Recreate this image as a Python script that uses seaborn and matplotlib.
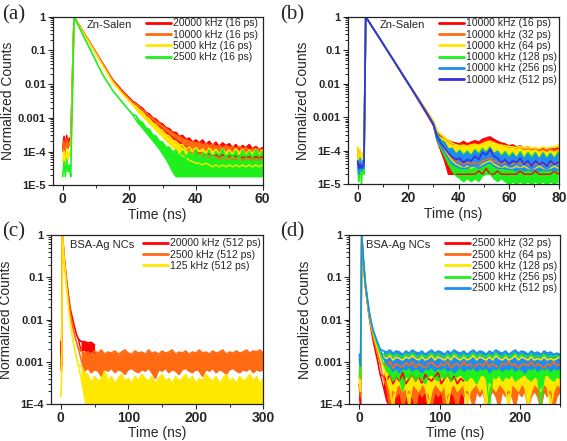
"""
Normalized PL decay curves (TCSPC) for Zn-Salen and BSA-Ag NCs.
"""
import numpy as np
import seaborn as sns
import matplotlib
matplotlib.use("Agg")
import matplotlib.pyplot as plt
from matplotlib.ticker import MultipleLocator, LogLocator, NullFormatter

# ---------------- data ----------------
# Each curve: a head (background, rise, decay) drawn as a line, and a noisy
# tail given as upper / lower envelope of the noise band.

# (a) Zn-Salen, different repetition rates, 16 ps bins
head_t_a = [0, 0.4, 0.8, 1.2, 1.6, 2.0, 2.4, 3.4, 6, 9, 12, 15, 18, 21]
tail_t_a = list(range(22, 61))
labels_a = ["20000 kHz (16 ps)", "10000 kHz (16 ps)", "5000 kHz (16 ps)", "2500 kHz (16 ps)"]
red_a = [1.2e-4, 2.8e-4, 1.0e-4, 3.0e-4, 1.5e-4, 2.5e-4, 1.8e-4, 1.0,
         0.38, 0.125, 0.041, 0.0135, 0.0062, 0.0031]
red_a_hi = [2.7e-3, 2.2e-3, 1.9e-3, 1.45e-3, 1.3e-3, 1.0e-3, 9.2e-4, 7.2e-4, 6.6e-4, 5.1e-4,
            4.8e-4, 3.7e-4, 3.7e-4, 2.8e-4, 3.0e-4, 2.3e-4, 2.5e-4, 1.9e-4, 2.2e-4, 1.8e-4,
            2.2e-4, 1.6e-4, 2.0e-4, 1.5e-4, 1.9e-4, 1.4e-4, 1.8e-4, 1.5e-4, 1.7e-4, 1.3e-4,
            1.6e-4, 1.2e-4, 1.5e-4, 1.3e-4, 1.6e-4, 1.2e-4, 1.4e-4, 1.15e-4, 1.3e-4]
red_a_lo = [2.3e-3, 1.9e-3, 1.5e-3, 1.2e-3, 9.8e-4, 8.0e-4, 6.6e-4, 5.4e-4, 4.5e-4, 3.7e-4,
            3.1e-4, 2.6e-4, 2.2e-4, 1.9e-4, 1.6e-4, 1.4e-4, 1.2e-4, 1.1e-4, 1.0e-4, 9e-5,
            9e-5, 8e-5, 8.5e-5, 7.5e-5, 8e-5, 7e-5, 8e-5, 7.5e-5, 7e-5, 8e-5,
            7e-5, 7.5e-5, 6.5e-5, 7e-5, 7e-5, 6.5e-5, 7e-5, 6.5e-5, 7e-5]
orange_a = [1.0e-4, 2.0e-4, 8.0e-5, 2.2e-4, 1.2e-4, 2.0e-4, 1.4e-4, 1.0,
            0.37, 0.12, 0.039, 0.0128, 0.0058, 0.0029]
orange_a_hi = [2.5e-3, 2.05e-3, 1.7e-3, 1.38e-3, 1.14e-3, 9.5e-4, 8.0e-4, 6.8e-4, 5.7e-4, 4.8e-4,
               4.1e-4, 3.5e-4, 3.1e-4, 2.7e-4, 2.4e-4, 2.2e-4, 2.0e-4, 1.9e-4, 1.8e-4, 1.8e-4,
               1.6e-4, 1.7e-4, 1.5e-4, 1.6e-4, 1.4e-4, 1.5e-4, 1.3e-4, 1.5e-4, 1.3e-4, 1.4e-4,
               1.2e-4, 1.4e-4, 1.2e-4, 1.3e-4, 1.1e-4, 1.2e-4, 1.1e-4, 1.2e-4, 1.1e-4]
orange_a_lo = [2.1e-3, 1.7e-3, 1.4e-3, 1.1e-3, 8.9e-4, 7.3e-4, 6.0e-4, 4.9e-4, 4.0e-4, 3.3e-4,
               2.7e-4, 2.2e-4, 1.9e-4, 1.6e-4, 1.4e-4, 1.2e-4, 1.0e-4, 9e-5, 8.5e-5, 8e-5,
               7.5e-5, 7e-5, 7e-5, 6.5e-5, 7e-5, 6e-5, 6.5e-5, 6e-5, 6.5e-5, 6e-5,
               6e-5, 6.5e-5, 5.5e-5, 6e-5, 6e-5, 5.5e-5, 6e-5, 5.5e-5, 6e-5]
yellow_a = [5e-5, 1.0e-4, 4e-5, 1.2e-4, 6e-5, 1.0e-4, 7e-5, 1.0,
            0.36, 0.115, 0.036, 0.0115, 0.0050, 0.0024]
yellow_a_hi = [2.2e-3, 1.7e-3, 1.45e-3, 1.08e-3, 9.4e-4, 7.0e-4, 6.3e-4, 4.7e-4, 4.2e-4, 3.1e-4,
               2.9e-4, 2.1e-4, 2.0e-4, 1.55e-4, 1.6e-4, 1.2e-4, 1.35e-4, 1.05e-4, 1.3e-4, 1.0e-4,
               1.2e-4, 9e-5, 1.25e-4, 9.5e-5, 1.15e-4, 8.5e-5, 1.2e-4, 9e-5, 1.1e-4, 8.5e-5,
               1.2e-4, 9e-5, 1.15e-4, 8e-5, 1.1e-4, 8.5e-5, 1.2e-4, 8e-5, 1.1e-4]
yellow_a_lo = [1.8e-3, 1.4e-3, 1.1e-3, 8.6e-4, 6.8e-4, 5.4e-4, 4.3e-4, 3.4e-4, 2.7e-4, 2.1e-4,
               1.7e-4, 1.35e-4, 1.1e-4, 9e-5, 7.5e-5, 6.5e-5, 5.5e-5, 5e-5, 4.5e-5, 4.5e-5,
               4e-5, 4.5e-5, 4e-5, 3.5e-5, 4e-5, 3.5e-5, 4e-5, 3.5e-5, 4e-5, 3.5e-5,
               4e-5, 3.5e-5, 4e-5, 3.5e-5, 4e-5, 3.5e-5, 4e-5, 3.5e-5, 4e-5]
green_a = [1.8e-5, 5e-5, 1.8e-5, 6e-5, 2.5e-5, 4e-5, 1.8e-5, 1.0,
           0.30, 0.076, 0.019, 0.0065, 0.0028, 0.00125]
green_a_hi = [1.15e-3, 8.2e-4, 7.2e-4, 5.0e-4, 4.6e-4, 3.1e-4, 2.9e-4, 2.0e-4, 1.9e-4, 1.35e-4,
              1.35e-4, 9.5e-5, 1.1e-4, 7e-5, 1.05e-4, 6.5e-5, 1.0e-4, 7e-5, 1.15e-4, 6.5e-5,
              9.5e-5, 7e-5, 1.1e-4, 6e-5, 1.0e-4, 7.5e-5, 1.2e-4, 6.5e-5, 9.5e-5, 7e-5,
              1.05e-4, 6e-5, 1.1e-4, 7e-5, 1.0e-4, 6.5e-5, 1.15e-4, 7e-5, 1.0e-4]
green_a_lo = [8.5e-4, 6.3e-4, 4.9e-4, 3.7e-4, 2.8e-4, 2.1e-4, 1.6e-4, 1.2e-4, 8.5e-5, 6e-5,
              4e-5, 2.5e-5, 1.8e-5, 1.8e-5, 1.8e-5, 1.8e-5, 1.8e-5, 1.8e-5, 1.8e-5, 1.8e-5,
              1.8e-5, 1.8e-5, 1.8e-5, 1.8e-5, 1.8e-5, 1.8e-5, 1.8e-5, 1.8e-5, 1.8e-5, 1.8e-5,
              1.8e-5, 1.8e-5, 1.8e-5, 1.8e-5, 1.8e-5, 1.8e-5, 1.8e-5, 1.8e-5, 1.8e-5]

# (b) Zn-Salen, 10000 kHz, different bin widths
head_t_b = [0, 0.5, 1.0, 1.5, 2.0, 2.5, 3.2, 6, 9, 12, 15, 18, 21, 24, 27, 30]
tail_t_b = [31.5 + 1.5 * i for i in range(33)]
labels_b = ["10000 kHz (16 ps)", "10000 kHz (32 ps)", "10000 kHz (64 ps)",
            "10000 kHz (128 ps)", "10000 kHz (256 ps)", "10000 kHz (512 ps)"]
red_b = [1.2e-4, 3e-5, 1.0e-4, 2e-5, 8e-5, 4e-5, 1.0,
         0.47, 0.21, 0.092, 0.040, 0.0175, 0.0077, 0.0033, 0.0014, 5.8e-4]
red_b_hi = [3.5e-4, 2.8e-4, 2.4e-4, 2.0e-4, 1.8e-4, 1.7e-4, 1.6e-4, 1.9e-4, 1.6e-4, 1.8e-4,
            2.0e-4, 1.8e-4, 2.2e-4, 2.4e-4, 2.6e-4, 2.2e-4, 1.9e-4, 1.7e-4, 1.6e-4, 1.4e-4,
            1.5e-4, 1.3e-4, 1.4e-4, 1.2e-4, 1.3e-4, 1.1e-4, 1.2e-4, 1.1e-4, 1.2e-4, 1.0e-4,
            1.2e-4, 1.1e-4, 1.2e-4]
red_b_lo = [2.0e-4, 1.0e-4, 5e-5, 2e-5, 2e-5, 2e-5, 2e-5, 2e-5, 2e-5, 2e-5,
            2e-5, 2.5e-5, 2e-5, 3e-5, 2e-5, 2e-5, 2.5e-5, 2e-5, 2e-5, 2e-5,
            2e-5, 2e-5, 2.5e-5, 2e-5, 2e-5, 2e-5, 2.5e-5, 2e-5, 2e-5, 2e-5,
            2e-5, 2.5e-5, 2e-5]
orange_b = [1.0e-4, 4e-5, 9e-5, 3e-5, 7e-5, 5e-5, 1.0,
            0.47, 0.21, 0.093, 0.041, 0.018, 0.0081, 0.0037, 0.0017, 7.6e-4]
orange_b_hi = [3.8e-4, 3.0e-4, 2.4e-4, 1.9e-4, 1.6e-4, 1.5e-4, 1.4e-4, 1.5e-4, 1.4e-4, 1.5e-4,
               1.6e-4, 1.5e-4, 1.7e-4, 1.9e-4, 2.0e-4, 1.8e-4, 1.6e-4, 1.5e-4, 1.4e-4, 1.3e-4,
               1.3e-4, 1.2e-4, 1.3e-4, 1.1e-4, 1.2e-4, 1.1e-4, 1.2e-4, 1.0e-4, 1.1e-4, 1.0e-4,
               1.1e-4, 1.0e-4, 1.1e-4]
orange_b_lo = [2.6e-4, 1.8e-4, 1.2e-4, 8e-5, 6e-5, 5e-5, 4.5e-5, 4e-5, 4.5e-5, 4e-5,
               4.5e-5, 4e-5, 5e-5, 5.5e-5, 6e-5, 5e-5, 4.5e-5, 4e-5, 4.5e-5, 4e-5,
               4e-5, 4.5e-5, 4e-5, 4.5e-5, 4e-5, 3.5e-5, 4e-5, 4.5e-5, 4e-5, 3.5e-5,
               4e-5, 4.5e-5, 4e-5]
yellow_b = [1.3e-4, 2e-5, 1.1e-4, 3e-5, 9e-5, 3e-5, 1.0,
            0.47, 0.21, 0.093, 0.042, 0.0185, 0.0083, 0.0038, 0.0017, 7.8e-4]
yellow_b_hi = [4.0e-4, 3.1e-4, 2.5e-4, 2.0e-4, 1.7e-4, 1.5e-4, 1.4e-4, 1.45e-4, 1.35e-4, 1.5e-4,
               1.55e-4, 1.45e-4, 1.6e-4, 1.8e-4, 1.9e-4, 1.7e-4, 1.55e-4, 1.45e-4, 1.4e-4, 1.35e-4,
               1.3e-4, 1.25e-4, 1.35e-4, 1.2e-4, 1.3e-4, 1.2e-4, 1.25e-4, 1.15e-4, 1.3e-4, 1.2e-4,
               1.25e-4, 1.3e-4, 1.5e-4]
yellow_b_lo = [2.6e-4, 1.7e-4, 1.1e-4, 7e-5, 5e-5, 4e-5, 3.5e-5, 3e-5, 3.5e-5, 3e-5,
               3.5e-5, 3e-5, 4e-5, 4.5e-5, 5e-5, 4e-5, 3.5e-5, 3e-5, 3.5e-5, 3e-5,
               3e-5, 3.5e-5, 3e-5, 3.5e-5, 3e-5, 2.5e-5, 3e-5, 3.5e-5, 3e-5, 2.5e-5,
               3e-5, 3.5e-5, 3e-5]
green_b = [4e-5, 1.2e-5, 6e-5, 1.0e-5, 5e-5, 2e-5, 1.0,
           0.47, 0.21, 0.092, 0.041, 0.018, 0.0079, 0.0035, 0.0015, 6.5e-4]
green_b_hi = [3.2e-4, 2.1e-4, 1.8e-4, 1.1e-4, 1.2e-4, 8e-5, 1.05e-4, 7.5e-5, 1.0e-4, 7e-5,
              1.1e-4, 8e-5, 1.2e-4, 9e-5, 1.3e-4, 8e-5, 1.0e-4, 7e-5, 9.5e-5, 6.5e-5,
              9e-5, 6e-5, 9.5e-5, 6e-5, 9e-5, 6.5e-5, 9e-5, 5.5e-5, 9e-5, 6e-5,
              8.5e-5, 6e-5, 9e-5]
green_b_lo = [2.0e-4, 1.2e-4, 7e-5, 4e-5, 2.5e-5, 1.8e-5, 1.5e-5, 1.2e-5, 1.5e-5, 1.2e-5,
              1.5e-5, 1.2e-5, 1.8e-5, 2e-5, 2e-5, 1.5e-5, 1.2e-5, 1.5e-5, 1.2e-5, 1.0e-5,
              1.2e-5, 1.0e-5, 1.2e-5, 1.0e-5, 1.2e-5, 1.0e-5, 1.2e-5, 1.0e-5, 1.2e-5, 1.0e-5,
              1.2e-5, 1.0e-5, 1.2e-5]
blue_b = [5e-5, 2e-5, 6e-5, 2.5e-5, 5e-5, 3e-5, 1.0,
          0.47, 0.21, 0.092, 0.041, 0.018, 0.008, 0.0035, 0.00155, 6.6e-4]
blue_b_hi = [3.0e-4, 2.0e-4, 1.7e-4, 1.1e-4, 1.15e-4, 8e-5, 9.5e-5, 7e-5, 9e-5, 7e-5,
             1.0e-4, 7.5e-5, 1.05e-4, 8.5e-5, 1.2e-4, 8e-5, 9.5e-5, 6.5e-5, 8.5e-5, 6e-5,
             8e-5, 6e-5, 8.5e-5, 5.5e-5, 8e-5, 5.5e-5, 8e-5, 5.5e-5, 8e-5, 5.5e-5,
             8e-5, 5.5e-5, 8e-5]
blue_b_lo = [2.2e-4, 1.4e-4, 9e-5, 6e-5, 4e-5, 3.5e-5, 3e-5, 3e-5, 3e-5, 3.5e-5,
             3.5e-5, 3e-5, 3.5e-5, 4e-5, 4.5e-5, 3.5e-5, 3e-5, 3e-5, 3e-5, 2.8e-5,
             2.8e-5, 2.5e-5, 3e-5, 2.5e-5, 2.8e-5, 2.5e-5, 2.8e-5, 2.5e-5, 2.8e-5, 2.5e-5,
             2.8e-5, 2.5e-5, 2.8e-5]
purple_b = [5e-5, 3e-5, 4e-5, 3e-5, 3.5e-5, 4e-5, 1.0,
            0.47, 0.21, 0.092, 0.041, 0.018, 0.008, 0.0035, 0.0015, 6.3e-4]
# the 512 ps trace is smooth enough to stay a single line
purple_b_hi = [2.6e-4, 1.7e-4, 1.2e-4, 8.5e-5, 6.5e-5, 5.5e-5, 6e-5, 4.5e-5, 5.5e-5, 5e-5,
               7e-5, 5.5e-5, 9e-5, 7.5e-5, 1.1e-4, 7e-5, 6e-5, 4.5e-5, 5.5e-5, 4e-5,
               5e-5, 4.5e-5, 6e-5, 4e-5, 5e-5, 3.5e-5, 5e-5, 4e-5, 4.5e-5, 3.5e-5,
               5e-5, 4e-5, 4.5e-5]
purple_b_lo = None

# (c) BSA-Ag NCs, different repetition rates, 512 ps bins
head_t_c = [0, 1, 2.5, 5, 8, 11, 14, 17, 20, 23, 26]
tail_t_c = list(range(30, 301, 5))
labels_c = ["20000 kHz (512 ps)", "2500 kHz (512 ps)", "125 kHz (512 ps)"]
red_c = [3e-3, 8e-4, 1.0, 0.3, 0.1, 0.04, 0.018, 0.011, 0.007, 0.0045, 0.0035]
red_c_hi = [3.0e-3, 3.0e-3, 2.8e-3, 2.9e-3, 2.5e-3]
red_c_lo = [1.8e-3, 1.9e-3, 1.6e-3, 1.7e-3, 1.6e-3]
orange_c = [1.2e-3, 6e-4, 1.0, 0.28, 0.09, 0.033, 0.014, 0.0075, 0.0045, 0.003, 0.0021]
orange_c_hi = [1.8e-3, 1.6e-3, 1.7e-3, 1.5e-3, 1.8e-3, 1.6e-3, 1.9e-3, 1.5e-3, 1.7e-3, 1.6e-3,
               1.8e-3, 1.5e-3, 1.7e-3, 1.9e-3, 1.6e-3, 1.5e-3, 1.8e-3, 1.6e-3, 1.7e-3, 1.5e-3,
               1.9e-3, 1.6e-3, 1.7e-3, 1.5e-3, 1.8e-3, 1.6e-3, 1.7e-3, 1.9e-3, 1.5e-3, 1.7e-3,
               1.6e-3, 1.8e-3, 1.5e-3, 1.7e-3, 1.6e-3, 1.9e-3, 1.6e-3, 1.7e-3, 1.5e-3, 1.8e-3,
               1.6e-3, 1.7e-3, 1.9e-3, 1.5e-3, 1.7e-3, 1.6e-3, 1.8e-3, 1.6e-3, 1.7e-3, 1.9e-3,
               1.6e-3, 1.8e-3, 1.7e-3, 1.9e-3, 1.6e-3]
orange_c_lo = [1.1e-3, 6e-4, 7e-4, 5.5e-4, 6.5e-4, 6e-4, 4.5e-4, 6.5e-4, 6e-4, 7e-4,
               5.5e-4, 6.5e-4, 6e-4, 5e-4, 6.5e-4, 7e-4, 6e-4, 5.5e-4, 6.5e-4, 6e-4,
               7e-4, 5.5e-4, 4e-4, 6.5e-4, 6e-4, 7e-4, 5.5e-4, 6.5e-4, 6e-4, 5e-4,
               6.5e-4, 7e-4, 6e-4, 5.5e-4, 6.5e-4, 6e-4, 4.5e-4, 6.5e-4, 6e-4, 7e-4,
               5.5e-4, 6.5e-4, 6e-4, 5e-4, 6.5e-4, 7e-4, 6e-4, 5.5e-4, 6.5e-4, 6e-4,
               7e-4, 5.5e-4, 6.5e-4, 6e-4, 6.5e-4]
yellow_c = [1.5e-4, 3e-4, 1.0, 0.25, 0.07, 0.022, 0.0085, 0.004, 0.0022, 0.0013, 8e-4]
yellow_c_hi = [8e-4, 5.5e-4, 5e-4, 3e-4, 4.5e-4, 3.5e-4, 4e-4, 6e-4, 3.5e-4, 4.5e-4,
               3e-4, 4e-4, 5e-4, 3.5e-4, 4e-4, 3e-4, 4.5e-4, 3.5e-4, 5e-4, 4e-4,
               3.5e-4, 4.5e-4, 3e-4, 4e-4, 5e-4, 3.5e-4, 4e-4, 3e-4, 4.5e-4, 3.5e-4,
               4e-4, 5e-4, 3.5e-4, 4.5e-4, 3e-4, 4e-4, 3.5e-4, 5e-4, 4e-4, 3.5e-4,
               4.5e-4, 3e-4, 4e-4, 5e-4, 3.5e-4, 4e-4, 3e-4, 4.5e-4, 3.5e-4, 4e-4,
               5e-4, 3.5e-4, 4.5e-4, 3e-4, 4e-4]
yellow_c_lo = [4e-4, 1.5e-4] + [5e-5] * 53

# (d) BSA-Ag NCs, 2500 kHz, different bin widths
head_t_d = [0, 1.5, 3, 5, 7.5, 10, 12.5, 15, 17.5, 20, 23, 26]
tail_t_d = list(range(30, 251, 4))
labels_d = ["2500 kHz (32 ps)", "2500 kHz (64 ps)", "2500 kHz (128 ps)",
            "2500 kHz (256 ps)", "2500 kHz (512 ps)"]
red_d = [3e-4, 1e-4, 1.0, 0.24, 0.062, 0.025, 0.011, 0.0055, 0.003, 0.0018, 0.001, 5e-4]
red_d_hi = [4.5e-4, 3.5e-4, 5e-4, 3e-4, 4.5e-4, 3.5e-4, 5.5e-4, 3e-4, 4e-4, 5e-4,
            3.5e-4, 4.5e-4, 3e-4, 5e-4, 4e-4, 3.5e-4, 4.5e-4, 5.5e-4, 3e-4, 4e-4,
            5e-4, 3.5e-4, 4.5e-4, 3e-4, 4e-4, 3.5e-4]
red_d_lo = [2.5e-4, 1.2e-4] + [8e-5] * 24
orange_d = [5e-4, 1.5e-4, 1.0, 0.25, 0.066, 0.027, 0.012, 0.0062, 0.0038, 0.0025, 0.0015, 9e-4]
orange_d_hi = [9e-4, 8e-4, 1.0e-3, 7e-4, 9e-4, 8e-4, 7.5e-4, 9.5e-4, 8e-4, 1.0e-3,
               7e-4, 9e-4, 8e-4, 7e-4, 9e-4, 1.0e-3, 8e-4, 7.5e-4, 9e-4, 8e-4,
               1.0e-3, 7e-4, 8.5e-4, 9e-4, 7.5e-4, 1.0e-3, 8e-4, 9e-4, 7e-4, 8.5e-4,
               9e-4, 8e-4, 1.0e-3, 7.5e-4, 9e-4, 8e-4, 7e-4, 9e-4, 8.5e-4, 1.0e-3,
               8e-4, 9e-4, 7e-4, 8.5e-4, 9e-4, 8e-4, 1.0e-3, 7.5e-4, 9e-4, 8e-4,
               7e-4, 9e-4, 8e-4, 1.0e-3, 8e-4, 9e-4]
orange_d_lo = [4e-4, 2.5e-4, 8e-5, 2e-4, 1.5e-4, 2e-4, 8e-5, 1.5e-4, 2e-4, 1.5e-4,
               8e-5, 2e-4, 1.5e-4, 2e-4, 1.5e-4, 8e-5, 2e-4, 1.5e-4, 2e-4, 8e-5,
               1.5e-4, 2e-4, 1.5e-4, 8e-5, 2e-4, 1.5e-4, 2e-4, 1.5e-4, 8e-5, 2e-4,
               1.5e-4, 2e-4, 8e-5, 1.5e-4, 2e-4, 1.5e-4, 8e-5, 2e-4, 1.5e-4, 2e-4,
               1.5e-4, 8e-5, 2e-4, 1.5e-4, 2e-4, 8e-5, 1.5e-4, 2e-4, 1.5e-4, 8e-5,
               2e-4, 1.5e-4, 2e-4, 8e-5, 1.5e-4, 2e-4]
yellow_d = [6e-4, 2e-4, 1.0, 0.26, 0.07, 0.029, 0.013, 0.007, 0.0045, 0.003, 0.002, 0.0013]
yellow_d_hi = [1.3e-3, 1.2e-3, 1.4e-3, 1.1e-3, 1.3e-3, 1.2e-3, 1.1e-3, 1.3e-3, 1.2e-3, 1.4e-3,
               1.2e-3, 1.1e-3, 1.3e-3, 1.1e-3, 1.2e-3, 1.4e-3, 1.1e-3, 1.3e-3, 1.2e-3, 1.1e-3,
               1.3e-3, 1.1e-3, 1.4e-3, 1.2e-3, 1.1e-3, 1.3e-3, 1.1e-3, 1.2e-3, 1.4e-3, 1.1e-3,
               1.3e-3, 1.2e-3, 1.1e-3, 1.3e-3, 1.1e-3, 1.4e-3, 1.2e-3, 1.1e-3, 1.3e-3, 1.1e-3,
               1.2e-3, 1.4e-3, 1.1e-3, 1.3e-3, 1.2e-3, 1.1e-3, 1.3e-3, 1.1e-3, 1.2e-3, 1.1e-3,
               1.3e-3, 1.1e-3, 1.2e-3, 1.1e-3, 1.2e-3, 1.3e-3]
yellow_d_lo = [7e-4, 4e-4, 2e-4, 8e-5, 2.5e-4, 3e-4, 2e-4, 2.5e-4, 8e-5, 3e-4,
               2.5e-4, 2e-4, 3e-4, 2.5e-4, 8e-5, 2e-4, 3e-4, 2.5e-4, 2e-4, 3e-4,
               8e-5, 2.5e-4, 3e-4, 2e-4, 2.5e-4, 3e-4, 8e-5, 2e-4, 2.5e-4, 3e-4,
               2e-4, 2.5e-4, 8e-5, 3e-4, 2.5e-4, 2e-4, 3e-4, 2.5e-4, 2e-4, 8e-5,
               3e-4, 2.5e-4, 2e-4, 3e-4, 2.5e-4, 8e-5, 2e-4, 3e-4, 2.5e-4, 2e-4,
               3e-4, 2.5e-4, 8e-5, 2e-4, 3e-4, 2.5e-4]
green_d = [1.2e-3, 4e-4, 1.0, 0.27, 0.072, 0.03, 0.014, 0.0078, 0.005, 0.0035, 0.0024, 0.0016]
green_d_hi = [1.5e-3, 1.4e-3, 1.6e-3, 1.3e-3, 1.5e-3, 1.4e-3, 1.3e-3, 1.5e-3, 1.4e-3, 1.6e-3,
              1.4e-3, 1.3e-3, 1.5e-3, 1.3e-3, 1.4e-3, 1.6e-3, 1.3e-3, 1.5e-3, 1.4e-3, 1.3e-3,
              1.5e-3, 1.3e-3, 1.6e-3, 1.4e-3, 1.3e-3, 1.5e-3, 1.3e-3, 1.4e-3, 1.6e-3, 1.3e-3,
              1.5e-3, 1.4e-3, 1.3e-3, 1.5e-3, 1.3e-3, 1.6e-3, 1.4e-3, 1.3e-3, 1.5e-3, 1.3e-3,
              1.4e-3, 1.6e-3, 1.3e-3, 1.5e-3, 1.4e-3, 1.3e-3, 1.5e-3, 1.3e-3, 1.4e-3, 1.3e-3,
              1.5e-3, 1.3e-3, 1.4e-3, 1.3e-3, 1.4e-3, 1.3e-3]
green_d_lo = [9e-4, 6e-4, 5e-4, 3.5e-4, 4.5e-4, 4e-4, 2e-4, 4.5e-4, 4e-4, 5e-4,
              3.5e-4, 4.5e-4, 4e-4, 3e-4, 4.5e-4, 5e-4, 4e-4, 3.5e-4, 4.5e-4, 4e-4,
              5e-4, 3.5e-4, 4e-4, 4.5e-4, 5e-4, 4e-4, 3.5e-4, 4.5e-4, 4e-4, 3e-4,
              4.5e-4, 5e-4, 4e-4, 9e-5, 4.5e-4, 4e-4, 5e-4, 3.5e-4, 4.5e-4, 4e-4,
              5e-4, 3.5e-4, 4e-4, 4.5e-4, 5e-4, 4e-4, 3.5e-4, 4.5e-4, 4e-4, 9e-5,
              4.5e-4, 5e-4, 4e-4, 3.5e-4, 4.5e-4, 4e-4]
blue_d = [1.5e-3, 8e-4, 1.0, 0.28, 0.075, 0.032, 0.015, 0.0085, 0.0055, 0.004, 0.0028, 0.002]
blue_d_hi = [1.8e-3, 1.7e-3, 1.9e-3, 1.6e-3, 1.8e-3, 1.7e-3, 1.5e-3, 1.8e-3, 1.6e-3, 1.9e-3,
             1.7e-3, 1.6e-3, 1.8e-3, 1.5e-3, 1.7e-3, 1.9e-3, 1.6e-3, 1.8e-3, 1.7e-3, 1.5e-3,
             1.8e-3, 1.6e-3, 1.9e-3, 1.7e-3, 1.6e-3, 1.8e-3, 1.5e-3, 1.7e-3, 1.9e-3, 1.6e-3,
             1.8e-3, 1.7e-3, 1.5e-3, 1.8e-3, 1.6e-3, 1.9e-3, 1.7e-3, 1.6e-3, 1.8e-3, 1.5e-3,
             1.7e-3, 1.9e-3, 1.6e-3, 1.8e-3, 1.7e-3, 1.5e-3, 1.8e-3, 1.6e-3, 1.7e-3, 1.5e-3,
             1.8e-3, 1.6e-3, 1.7e-3, 1.5e-3, 1.6e-3, 1.5e-3]
blue_d_lo = [1.2e-3, 9e-4, 7.5e-4, 6e-4, 7e-4, 5.5e-4, 7e-4, 6.5e-4, 7.5e-4, 6e-4,
             7e-4, 6.5e-4, 5.5e-4, 7e-4, 6.5e-4, 7.5e-4, 6e-4, 7e-4, 6.5e-4, 7.5e-4,
             6e-4, 7e-4, 5.5e-4, 6.5e-4, 7.5e-4, 6e-4, 7e-4, 6.5e-4, 7.5e-4, 6e-4,
             7e-4, 6.5e-4, 7.5e-4, 5.5e-4, 7e-4, 6.5e-4, 7.5e-4, 6e-4, 7e-4, 6.5e-4,
             7.5e-4, 6e-4, 7e-4, 6.5e-4, 5.5e-4, 7e-4, 6.5e-4, 7.5e-4, 6e-4, 7e-4,
             6.5e-4, 7.5e-4, 6e-4, 7e-4, 6.5e-4, 7e-4]

RED, ORANGE, YELLOW, GREEN = "#FF0000", "#FF6A13", "#FFE800", "#1EF01E"
BLUE, PURPLE = "#1E8CF0", "#3A2EE0"

TICK_TEXT = {1: "1", 0.1: "0.1", 0.01: "0.01", 0.001: "0.001", 1e-4: "1E-4", 1e-5: "1E-5"}


def draw_curve(ax, head_t, tail_t, head, hi, lo, color, label):
    tt = tail_t[:len(hi)]
    sns.lineplot(x=list(head_t) + list(tt), y=list(head) + list(hi), color=color, lw=1.2,
                 label=label, ax=ax, estimator=None, sort=False)
    if lo is not None:
        sns.lineplot(x=[head_t[-1]] + list(tt), y=[head[-1]] + list(lo), color=color,
                     lw=1.0, ax=ax, estimator=None, sort=False)
        ax.fill_between(tt, lo, hi, color=color, lw=0)


def style_panel(ax, xlim, ylim, xmajor, sample, leg_x, leg_y, sample_x, sample_y):
    ax.set_yscale("log")

    xt = np.arange(0, xlim[1] + 1e-9, xmajor)
    ax.set_xticks(xt, [str(int(v)) for v in xt], fontsize=10, fontweight="bold")
    yt = [k for k in TICK_TEXT if ylim[0] <= k <= ylim[1]]
    ax.set_yticks(yt, [TICK_TEXT[k] for k in yt], fontsize=8, fontweight="bold")
    ax.xaxis.set_minor_locator(MultipleLocator(xmajor / 2))
    ax.yaxis.set_minor_locator(LogLocator(base=10, subs=np.arange(2, 10), numticks=10))
    ax.yaxis.set_minor_formatter(NullFormatter())
    ax.set_xlim(*xlim)
    ax.set_ylim(*ylim)
    ax.tick_params(axis="both", which="major", direction="out", length=3.5, width=0.8,
                   pad=1.5)
    ax.tick_params(axis="both", which="minor", direction="out", length=2, width=0.7)
    for sp in ax.spines.values():
        sp.set_visible(True)
        sp.set_linewidth(0.9)
        sp.set_color("#222222")

    ax.set_xlabel("Time (ns)", fontsize=10, labelpad=1)
    ax.set_ylabel("Normalized Counts", fontsize=10, labelpad=2)
    ax.text(sample_x, sample_y, sample, transform=ax.transAxes, fontsize=8,
            va="center", ha="left")

    leg = ax.legend(loc="upper left", bbox_to_anchor=(leg_x, leg_y), frameon=False,
                    fontsize=7.5, handlelength=2.4, handletextpad=0.25,
                    labelspacing=0.12, borderpad=0, borderaxespad=0)
    for line in leg.get_lines():
        line.set_linewidth(2.0)


sns.set_theme(style="ticks")
plt.rcParams["font.family"] = ["Liberation Sans", "DejaVu Sans"]

fig = plt.figure(figsize=(5.67, 4.41), dpi=100)
ax_a = fig.add_axes([0.093, 0.580, 0.370, 0.382])
ax_b = fig.add_axes([0.613, 0.582, 0.3735, 0.380])
ax_c = fig.add_axes([0.0894, 0.0839, 0.375, 0.383])
ax_d = fig.add_axes([0.616, 0.0839, 0.372, 0.383])

# (a)
for head, hi, lo, c, lab in zip([red_a, orange_a, yellow_a, green_a],
                                [red_a_hi, orange_a_hi, yellow_a_hi, green_a_hi],
                                [red_a_lo, orange_a_lo, yellow_a_lo, green_a_lo],
                                [RED, ORANGE, YELLOW, GREEN], labels_a):
    draw_curve(ax_a, head_t_a, tail_t_a, head, hi, lo, c, lab)
style_panel(ax_a, (-3, 60), (1e-5, 1), 20, "Zn-Salen", 0.444, 0.99, 0.163, 0.951)

# (b)
for head, hi, lo, c, lab in zip([red_b, orange_b, yellow_b, green_b, blue_b, purple_b],
                                [red_b_hi, orange_b_hi, yellow_b_hi, green_b_hi, blue_b_hi,
                                 purple_b_hi],
                                [red_b_lo, orange_b_lo, yellow_b_lo, green_b_lo, blue_b_lo,
                                 purple_b_lo],
                                [RED, ORANGE, YELLOW, GREEN, BLUE, PURPLE], labels_b):
    draw_curve(ax_b, head_t_b, tail_t_b, head, hi, lo, c, lab)
style_panel(ax_b, (-4, 80), (1e-5, 1), 20, "Zn-Salen", 0.431, 0.99, 0.151, 0.951)

# (c)
for head, hi, lo, c, lab in zip([red_c, orange_c, yellow_c],
                                [red_c_hi, orange_c_hi, yellow_c_hi],
                                [red_c_lo, orange_c_lo, yellow_c_lo],
                                [RED, ORANGE, YELLOW], labels_c):
    draw_curve(ax_c, head_t_c, tail_t_c, head, hi, lo, c, lab)
style_panel(ax_c, (-15, 300), (1e-4, 1), 100, "BSA-Ag NCs", 0.433, 0.98, 0.091, 0.941)

# (d)
for head, hi, lo, c, lab in zip([red_d, orange_d, yellow_d, green_d, blue_d],
                                [red_d_hi, orange_d_hi, yellow_d_hi, green_d_hi, blue_d_hi],
                                [red_d_lo, orange_d_lo, yellow_d_lo, green_d_lo, blue_d_lo],
                                [RED, ORANGE, YELLOW, GREEN, BLUE], labels_d):
    draw_curve(ax_d, head_t_d, tail_t_d, head, hi, lo, c, lab)
style_panel(ax_d, (-12.5, 250), (1e-4, 1), 100, "BSA-Ag NCs", 0.452, 0.98, 0.078, 0.941)

# Panel letters.
for x, y, s in [(0.004, 0.966, "(a)"), (0.494, 0.966, "(b)"),
                (0.004, 0.474, "(c)"), (0.494, 0.474, "(d)")]:
    fig.text(x, y, s, fontsize=15, family="Liberation Serif", va="center", ha="left")

plt.savefig("out.png", dpi=100)
